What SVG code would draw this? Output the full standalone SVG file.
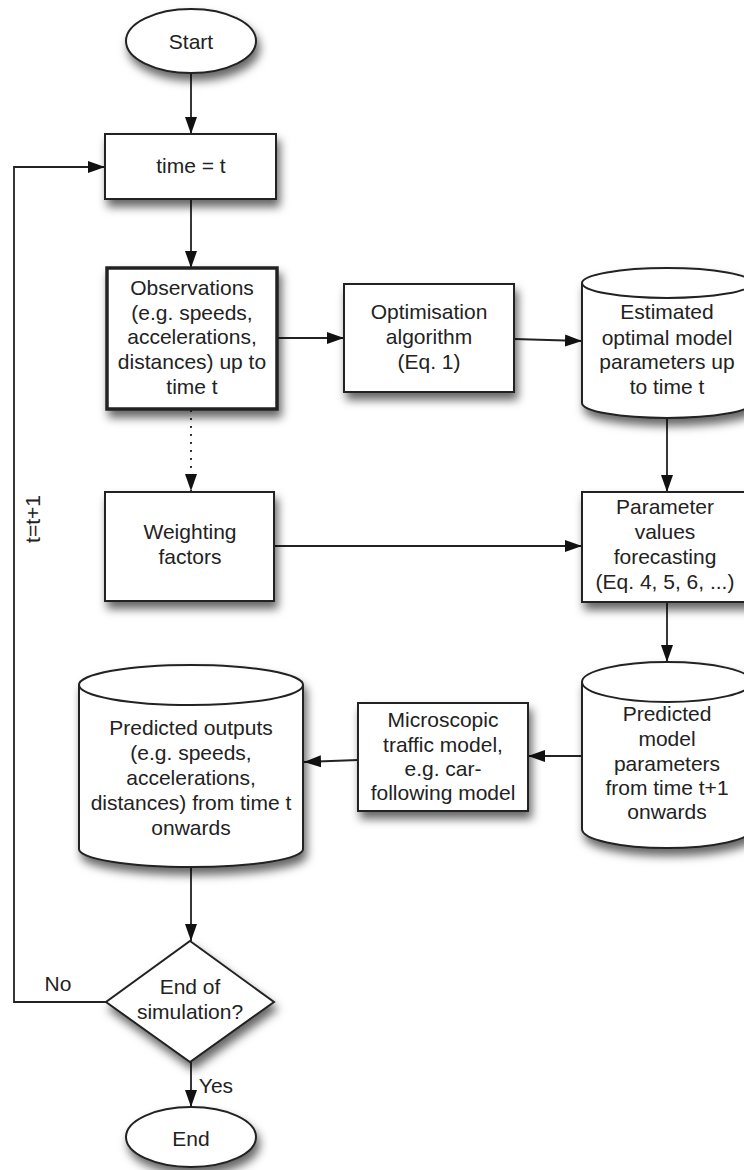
<svg xmlns="http://www.w3.org/2000/svg" width="744" height="1170" viewBox="0 0 744 1170">
<style>
.n{fill:#fff;stroke:#222;stroke-width:2}
.thick{stroke-width:3.5}
.t{font-family:"Liberation Sans",Arial,sans-serif;font-size:21px;fill:#222;text-anchor:middle}
.c{fill:none;stroke:#222;stroke-width:1.8}
.dot{stroke-dasharray:2 6}
</style>
<defs>
<filter id="sh" x="-20%" y="-20%" width="150%" height="160%">
<feDropShadow dx="3" dy="7" stdDeviation="5" flood-color="#000" flood-opacity="0.6"/>
</filter>
<marker id="ah" markerUnits="userSpaceOnUse" markerWidth="18" markerHeight="14" refX="17" refY="6.5" orient="auto">
<path d="M0,0.5 L17,6.5 L0,12.5 z" fill="#111"/>
</marker>
</defs>
<rect width="744" height="1170" fill="#fff"/>
<g id="connectors">
<line class="c" x1="191" y1="73" x2="191" y2="134" marker-end="url(#ah)"/>
<line class="c" x1="191" y1="199" x2="191" y2="268" marker-end="url(#ah)"/>
<line class="c" x1="277" y1="338" x2="344" y2="338" marker-end="url(#ah)"/>
<line class="c" x1="514" y1="339" x2="582" y2="341" marker-end="url(#ah)"/>
<line class="c" x1="667" y1="418" x2="667" y2="492" marker-end="url(#ah)"/>
<line class="c dot" x1="191" y1="410" x2="191" y2="491" marker-end="url(#ah)"/>
<line class="c" x1="274" y1="546" x2="582" y2="546" marker-end="url(#ah)"/>
<line class="c" x1="667" y1="602" x2="667" y2="662" marker-end="url(#ah)"/>
<line class="c" x1="582" y1="756" x2="528" y2="756" marker-end="url(#ah)"/>
<line class="c" x1="358" y1="760" x2="304" y2="762" marker-end="url(#ah)"/>
<line class="c" x1="191" y1="868" x2="191" y2="941" marker-end="url(#ah)"/>
<line class="c" x1="191" y1="1062" x2="191" y2="1107" marker-end="url(#ah)"/>
<polyline class="c" points="106,1002 14,1002 14,167 105,167" marker-end="url(#ah)"/>
<text class="t" x="58" y="991">No</text>
<text class="t" x="216" y="1093">Yes</text>
<text class="t" transform="translate(40,519) rotate(-90)">t=t+1</text>
</g>
<g id="start">
<ellipse class="n" filter="url(#sh)" cx="191" cy="41" rx="65" ry="32"/>
<text class="t" x="191" y="49">Start</text>
</g>
<g id="time">
<rect class="n" filter="url(#sh)" x="105" y="134" width="171" height="65"/>
<text class="t" x="191" y="173">time = t</text>
</g>
<g id="observations">
<rect class="n thick" filter="url(#sh)" x="107" y="268" width="170" height="141"/>
<text class="t" x="192" y="295">Observations</text>
<text class="t" x="192" y="320">(e.g. speeds,</text>
<text class="t" x="192" y="344">accelerations,</text>
<text class="t" x="192" y="369">distances) up to</text>
<text class="t" x="192" y="394">time t</text>
</g>
<g id="optimisation">
<rect class="n" filter="url(#sh)" x="344" y="284" width="170" height="108"/>
<text class="t" x="429" y="319">Optimisation</text>
<text class="t" x="429" y="344">algorithm</text>
<text class="t" x="429" y="369">(Eq. 1)</text>
</g>
<g id="estimated">
<path class="n" filter="url(#sh)" d="M582,283 A85,15 0 0 1 752,283 L752,403 A85,15 0 0 1 582,403 Z"/>
<path class="n" d="M582,283 A85,15 0 0 0 752,283" fill="none"/>
<text class="t" x="667" y="319">Estimated</text>
<text class="t" x="667" y="345">optimal model</text>
<text class="t" x="667" y="369">parameters up</text>
<text class="t" x="667" y="394">to time t</text>
</g>
<g id="weighting">
<rect class="n" filter="url(#sh)" x="105" y="492" width="169" height="109"/>
<text class="t" x="190" y="539">Weighting</text>
<text class="t" x="190" y="564">factors</text>
</g>
<g id="forecasting">
<rect class="n" filter="url(#sh)" x="582" y="492" width="170" height="110"/>
<text class="t" x="665" y="514">Parameter</text>
<text class="t" x="665" y="539">values</text>
<text class="t" x="665" y="564">forecasting</text>
<text class="t" x="665" y="589">(Eq. 4, 5, 6, ...)</text>
</g>
<g id="predicted-params">
<path class="n" filter="url(#sh)" d="M582,682 A85,20 0 0 1 752,682 L752,829 A85,19 0 0 1 582,829 Z"/>
<path class="n" d="M582,682 A85,20 0 0 0 752,682" fill="none"/>
<text class="t" x="667" y="721">Predicted</text>
<text class="t" x="667" y="746">model</text>
<text class="t" x="667" y="771">parameters</text>
<text class="t" x="667" y="795">from time t+1</text>
<text class="t" x="667" y="819">onwards</text>
</g>
<g id="microscopic">
<rect class="n" filter="url(#sh)" x="358" y="703" width="170" height="108"/>
<text class="t" x="443" y="727">Microscopic</text>
<text class="t" x="443" y="752">traffic model,</text>
<text class="t" x="443" y="776">e.g. car-</text>
<text class="t" x="443" y="800">following model</text>
</g>
<g id="predicted-outputs">
<path class="n" filter="url(#sh)" d="M79,685 A112,20 0 0 1 303,685 L303,849 A112,18 0 0 1 79,849 Z"/>
<path class="n" d="M79,685 A112,20 0 0 0 303,685" fill="none"/>
<text class="t" x="191" y="735">Predicted outputs</text>
<text class="t" x="191" y="760">(e.g. speeds,</text>
<text class="t" x="191" y="785">accelerations,</text>
<text class="t" x="191" y="810">distances) from time t</text>
<text class="t" x="191" y="835">onwards</text>
</g>
<g id="decision">
<polygon class="n" filter="url(#sh)" points="190,941 274,1002 190,1062 106,1002"/>
<text class="t" x="190" y="994">End of</text>
<text class="t" x="190" y="1019">simulation?</text>
</g>
<g id="end">
<ellipse class="n" filter="url(#sh)" cx="191" cy="1137" rx="65" ry="30"/>
<text class="t" x="191" y="1146">End</text>
</g>
</svg>
